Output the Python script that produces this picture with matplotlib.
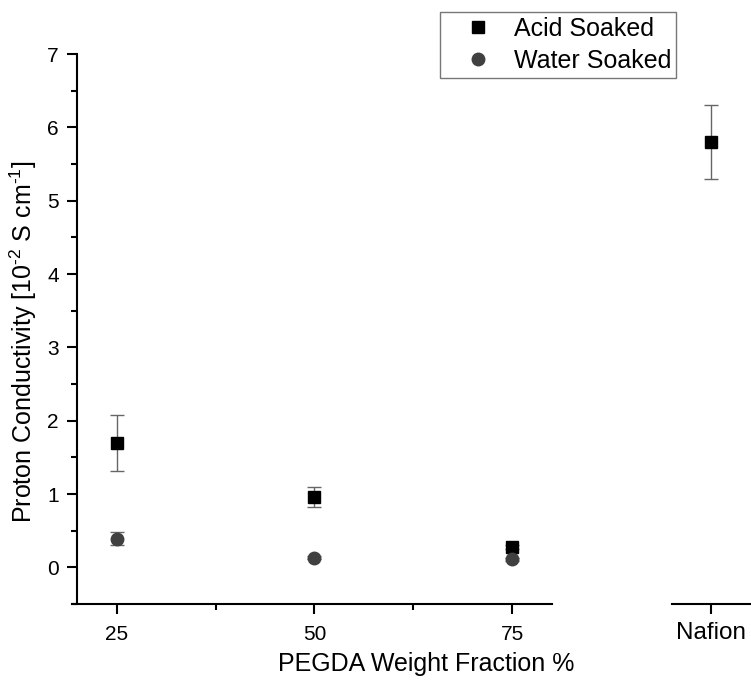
import matplotlib
matplotlib.use("Agg")
import matplotlib.pyplot as plt
from matplotlib.ticker import MultipleLocator, FixedLocator
from matplotlib.lines import Line2D

plt.rcParams['font.family'] = ['Liberation Sans', 'DejaVu Sans']
plt.rcParams['mathtext.fontset'] = 'custom'
plt.rcParams['mathtext.rm'] = 'Liberation Sans'
plt.rcParams['mathtext.it'] = 'Liberation Sans:italic'

# Data
fractions = [25, 50, 75]
acid = [1.70, 0.96, 0.28]
acid_err = [0.38, 0.14, 0.03]
water = [0.39, 0.13, 0.11]
water_err = [0.09, 0.02, 0.02]
nafion_label = "Nafion"
nafion_val = 5.80
nafion_err = 0.50

W, H = 751, 683
fig = plt.figure(figsize=(W/100, H/100), dpi=100)

def fx(px): return px / W
def fy(py): return 1 - py / H

top_px, bot_px = 54, 604
ax = fig.add_axes([fx(72), fy(bot_px), fx(552) - fx(72), fy(top_px) - fy(bot_px)])
ax2 = fig.add_axes([fx(672), fy(bot_px), fx(750) - fx(672), fy(top_px) - fy(bot_px)])

acid_color = 'black'
water_color = '#404040'
err_kw = dict(ecolor='#666666', elinewidth=1.0, capsize=5, capthick=1.0, linestyle='none')
ax.errorbar(fractions, acid, yerr=acid_err, marker='s', ms=8, mfc=acid_color, mec=acid_color,
            zorder=3, **err_kw)
ax.errorbar(fractions, water, yerr=water_err, marker='o', ms=9, mfc=water_color, mec=water_color,
            zorder=3, **err_kw)

ax.set_xlim(19.37, 80)
ax.set_ylim(-0.5, 7)
for s in ['top', 'right']:
    ax.spines[s].set_visible(False)
ax.spines['left'].set_position(('data', 20))
ax.spines['left'].set_bounds(-0.5, 7)
for s in ['left', 'bottom']:
    ax.spines[s].set_linewidth(1.5)
ax.xaxis.set_major_locator(FixedLocator(fractions))
ax.xaxis.set_minor_locator(FixedLocator([37.5, 62.5]))
ax.yaxis.set_major_locator(MultipleLocator(1))
ax.yaxis.set_minor_locator(MultipleLocator(0.5))
ax.set_yticks(range(0, 8))
ax.tick_params(axis='both', which='major', direction='out', length=7, width=1.5,
               labelsize=15, colors='black', pad=6)
ax.tick_params(axis='both', which='minor', direction='out', length=4, width=1.5)
ax.tick_params(axis='x', which='major', pad=8)

ax2.errorbar([0], [nafion_val], yerr=[nafion_err], marker='s', ms=8, mfc=acid_color, mec=acid_color,
             zorder=3, **err_kw)
ax2.set_xlim(-0.5, 0.5)
ax2.set_ylim(-0.5, 7)
for s in ['top', 'right', 'left']:
    ax2.spines[s].set_visible(False)
ax2.spines['bottom'].set_linewidth(1.5)
ax2.set_yticks([])
ax2.set_xticks([0])
ax2.set_xticklabels([nafion_label])
ax2.tick_params(axis='x', direction='out', length=7, width=1.5, labelsize=17.5, pad=6)
ax2.patch.set_alpha(0)

handles = [Line2D([], [], marker='s', ms=8, color=acid_color, linestyle='none'),
           Line2D([], [], marker='o', ms=9, color=water_color, linestyle='none')]
leg = fig.legend(handles=handles, labels=['Acid Soaked', 'Water Soaked'],
                 loc='upper left', bbox_to_anchor=(fx(440), fy(12)),
                 fontsize=18, frameon=True, fancybox=False, edgecolor='#555555',
                 handletextpad=0.12, borderpad=0.2, labelspacing=0.32, handlelength=2.64,
                 borderaxespad=0)
leg.get_frame().set_linewidth(1.0)

fig.text(fx(23), fy(342), "Proton Conductivity [10$^{\\mathregular{\u2010 2}}$ S cm$^{\\mathregular{\u2010 1}}$]",
         rotation=90, ha='center', va='center', fontsize=18)
fig.text(fx(426), fy(664), "PEGDA Weight Fraction %", ha='center', va='center', fontsize=18)

fig.savefig("out.png", dpi=100)
